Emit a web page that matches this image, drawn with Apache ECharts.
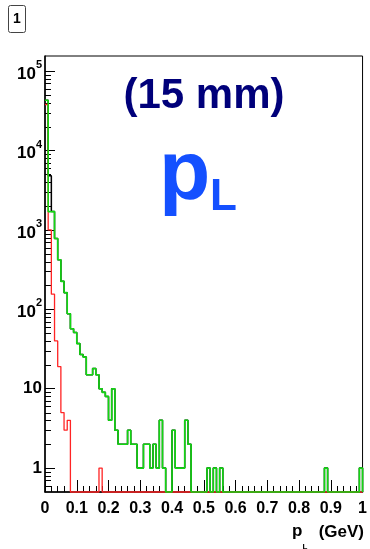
<!DOCTYPE html>
<html>
<head>
<meta charset="utf-8">
<script src="https://cdn.jsdelivr.net/npm/echarts@6/dist/echarts.min.js"></script>
<style>
  html, body { margin: 0; padding: 0; background: #fff; }
  #chart { width: 370px; height: 549px; }
</style>
</head>
<body>
<div id="chart"></div>
<script>
// Longitudinal momentum p_L, 100 bins of 0.01 GeV from 0 to 1 GeV (counts per bin)
const binWidth = 0.01;
const nBins = 100;

const countsBlack = [
  43000, 4800, 1700, 780, 420, 225, 162, 88, 57, 51,
  37, 27, 25, 15, 15, 18, 15, 10, 9, 8,
  4, 10, 3, 2, 2, 2, 3, 2, 2, 1,
  1, 2, 2, 1, 2, 1, 4, 1, 0, 0,
  3, 1, 1, 1, 4, 2, 0, 0, 0, 0,
  0, 1, 0, 1, 0, 1, 0, 0, 0, 0,
  0, 0, 0, 0, 0, 0, 0, 0, 0, 0,
  0, 0, 0, 0, 0, 0, 0, 0, 0, 0,
  0, 0, 0, 0, 0, 0, 0, 0, 1, 0,
  0, 0, 0, 0, 0, 0, 0, 0, 0, 1
];

const countsRed = [
  38000, 1000, 155, 40, 19, 5, 3, 4, 0, 0,
  0, 0, 0, 0, 0, 0, 0, 1, 0, 0,
  0, 0, 0, 0, 0, 0, 0, 0, 0, 0,
  0, 0, 0, 0, 0, 0, 0, 0, 0, 0,
  0, 0, 0, 0, 0, 0, 0, 0, 0, 0,
  0, 0, 0, 0, 0, 0, 0, 0, 0, 0,
  0, 0, 0, 0, 0, 0, 0, 0, 0, 0,
  0, 0, 0, 0, 0, 0, 0, 0, 0, 0,
  0, 0, 0, 0, 0, 0, 0, 0, 0, 0,
  0, 0, 0, 0, 0, 0, 0, 0, 0, 0
];

const countsGreen = [
  43000, 1700, 1700, 780, 420, 225, 162, 88, 57, 51,
  37, 27, 25, 15, 15, 18, 15, 10, 9, 8,
  4, 10, 3, 2, 2, 2, 3, 2, 2, 1,
  1, 2, 2, 1, 2, 1, 4, 1, 0, 0,
  3, 1, 1, 1, 4, 2, 0, 0, 0, 0,
  0, 1, 0, 1, 0, 1, 0, 0, 0, 0,
  0, 0, 0, 0, 0, 0, 0, 0, 0, 0,
  0, 0, 0, 0, 0, 0, 0, 0, 0, 0,
  0, 0, 0, 0, 0, 0, 0, 0, 1, 0,
  0, 0, 0, 0, 0, 0, 0, 0, 0, 1
];

// Axis ranges
const xMin = 0, xMax = 1, xStep = 0.1;
const yMin = 0.5, yMax = 1.55e5;

// Log-axis minor tick values (2..9 x 10^k inside the visible range)
const yMinorTicks = [];
for (let k = -1; k <= 5; k++) {
  for (let m = 2; m <= 9; m++) {
    const v = m * Math.pow(10, k);
    if (v > yMin && v < yMax) yMinorTicks.push(v);
  }
}

const FONT = "'Liberation Sans', Arial, Helvetica, sans-serif";

// Step outline of a histogram: one point per bin low edge, closed at the upper edge.
// Empty bins are drawn along the bottom of the frame, as on a log scale.
function stepPoints(counts) {
  const pts = counts.map((c, i) => [i * binWidth, c > 0 ? c : yMin]);
  const last = counts[counts.length - 1];
  pts.push([nBins * binWidth, last > 0 ? last : yMin]);
  pts.push([nBins * binWidth, yMin]);
  return pts;
}

function histSeries(counts, color, width) {
  return {
    type: 'line',
    step: 'end',
    data: stepPoints(counts),
    showSymbol: false,
    symbol: 'none',
    clip: false,
    silent: true,
    animation: false,
    lineStyle: { color: color, width: width }
  };
}

function yLabel(v) {
  const lg = Math.log10(v);
  const e = Math.round(lg);
  if (Math.abs(lg - e) > 1e-6) return '';
  if (e === 0) return '{n|1}';
  if (e === 1) return '{n|10}';
  return '{b|10}{s|' + e + '}';
}

const chart = echarts.init(document.getElementById('chart'), null, { renderer: 'canvas' });

chart.setOption({
  backgroundColor: '#fff',
  animation: false,
  grid: {
    left: 45, right: 6, top: 56, bottom: 57,
    show: true, borderColor: '#000', borderWidth: 1,
    backgroundColor: 'transparent'
  },
  xAxis: {
    type: 'value',
    min: xMin, max: xMax, interval: xStep,
    axisLine: { show: true, lineStyle: { color: '#000', width: 1.5 } },
    axisTick: { show: true, inside: true, length: 12, lineStyle: { color: '#000', width: 1 } },
    minorTick: { show: true, splitNumber: 5, length: 6, lineStyle: { color: '#000', width: 1 } },
    splitLine: { show: false },
    minorSplitLine: { show: false },
    axisLabel: {
      margin: 9,
      color: '#000',
      fontFamily: FONT,
      fontWeight: 'bold',
      fontSize: 16,
      formatter: v => String(Math.round(v * 10) / 10)
    }
  },
  yAxis: {
    type: 'log',
    logBase: 10,
    min: yMin, max: yMax,
    axisLine: { show: true, lineStyle: { color: '#000', width: 1.5 } },
    axisTick: { show: true, inside: true, length: 10, lineStyle: { color: '#000', width: 1 } },
    splitLine: { show: false },
    axisLabel: {
      margin: 3,
      color: '#000',
      showMinLabel: false,
      showMaxLabel: false,
      formatter: yLabel,
      rich: {
        n: { fontFamily: FONT, fontWeight: 'bold', fontSize: 17, color: '#000' },
        b: { fontFamily: FONT, fontWeight: 'bold', fontSize: 17, lineHeight: 17, padding: [6, 0, 0, 0], color: '#000' },
        s: { fontFamily: FONT, fontWeight: 'bold', fontSize: 11, lineHeight: 11, padding: [0, 0, 12, 0], color: '#000' }
      }
    }
  },
  series: [
    histSeries(countsBlack, '#000000', 1.5),
    histSeries(countsRed, '#ff2424', 1.3),
    histSeries(countsGreen, '#12d812', 1.6),
    {
      type: 'custom',
      silent: true,
      animation: false,
      clip: false,
      data: yMinorTicks.map(v => [xMin, v]),
      renderItem: (params, api) => {
        const p = api.coord([api.value(0), api.value(1)]);
        return {
          type: 'line',
          shape: { x1: p[0], y1: Math.round(p[1]) + 0.5, x2: p[0] + 6, y2: Math.round(p[1]) + 0.5 },
          style: { stroke: '#000', lineWidth: 1 }
        };
      }
    }
  ],
  graphic: [
    {
      type: 'rect',
      shape: { x: 8.5, y: 5.5, width: 17, height: 27, r: 2 },
      style: { fill: '#fff', stroke: '#444', lineWidth: 1 }
    },
    {
      type: 'text',
      x: 17, y: 19.5,
      style: { text: '1', font: 'bold 14px ' + FONT, fill: '#000', align: 'center', verticalAlign: 'middle' }
    },
    {
      type: 'text',
      x: 204, y: 96,
      style: { text: '(15 mm)', font: 'bold 42px ' + FONT, fill: '#00007a', align: 'center', verticalAlign: 'middle' }
    },
    {
      type: 'text',
      x: 159, y: 176,
      style: { text: 'p', font: 'bold 84px ' + FONT, fill: '#1450ff', align: 'left', verticalAlign: 'middle' }
    },
    {
      type: 'text',
      x: 210, y: 198,
      style: { text: 'L', font: 'bold 44px ' + FONT, fill: '#1450ff', align: 'left', verticalAlign: 'middle' }
    },
    {
      type: 'text',
      x: 292, y: 531,
      style: { text: 'p', font: 'bold 17px ' + FONT, fill: '#000', align: 'left', verticalAlign: 'middle' }
    },
    {
      type: 'text',
      x: 302.5, y: 547,
      style: { text: 'L', font: 'bold 8px ' + FONT, fill: '#000', align: 'left', verticalAlign: 'middle' }
    },
    {
      type: 'text',
      x: 364, y: 532,
      style: { text: '(GeV)', font: 'bold 17px ' + FONT, fill: '#000', align: 'right', verticalAlign: 'middle' }
    }
  ]
});
</script>
</body>
</html>
